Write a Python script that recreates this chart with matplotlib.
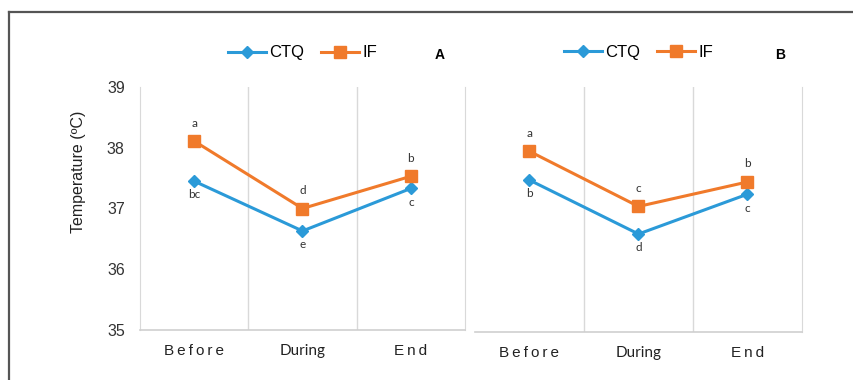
import matplotlib.pyplot as plt
from matplotlib.lines import Line2D

# categories and values
periods = ["Before", "During", "End"]

ctq_a = [37.45, 36.63, 37.33]
if_a = [38.11, 37.00, 37.53]
ctq_a_letters = ["bc", "e", "c"]
if_a_letters = ["a", "d", "b"]

ctq_b = [37.48, 36.60, 37.25]
if_b = [37.95, 37.05, 37.45]
ctq_b_letters = ["b", "d", "c"]
if_b_letters = ["a", "c", "b"]

BLUE = "#2B9AD8"
ORANGE = "#F07A2B"
GRID = "#D9D9D9"

plt.rcParams["font.family"] = ["Liberation Sans", "DejaVu Sans"]


def spaced(word):
    # Excel-style letter spacing on some tick labels
    return "\u2009".join(word)


def draw_panel(ax, ctq, iff, ctq_letters, if_letters, show_y):
    x = range(len(periods))
    ax.plot(x, ctq, color=BLUE, lw=2.2, marker="D", ms=6.5, label="CTQ")
    ax.plot(x, iff, color=ORANGE, lw=2.2, marker="s", ms=8.5, label="IF")

    for i in x:
        ax.annotate(if_letters[i], (i, iff[i]), xytext=(0, 9), textcoords="offset points",
                    ha="center", va="bottom", fontsize=8.5, color="#333333", family="Lato")
        ax.annotate(ctq_letters[i], (i, ctq[i]), xytext=(0, -6), textcoords="offset points",
                    ha="center", va="top", fontsize=8.5, color="#333333", family="Lato")

    ax.set_xlim(-0.5, 2.5)
    ax.set_ylim(35, 39)
    ax.set_yticks([35, 36, 37, 38, 39])
    ax.set_xticks(list(x))
    ax.set_xticklabels([spaced("Before"), "During", spaced("End")])
    ax.get_xticklabels()[1].set_family("Lato")
    ax.get_xticklabels()[1].set_fontsize(12)
    ax.tick_params(axis="x", length=0, pad=10, labelsize=11, colors="#222222")
    ax.tick_params(axis="y", length=0, pad=11, labelsize=11.5, colors="#333333")

    for xv in [0.5, 1.5]:
        ax.axvline(xv, color=GRID, lw=1, zorder=0)
    ax.spines["top"].set_visible(False)
    ax.spines["right"].set_color(GRID)
    ax.spines["left"].set_color(GRID)
    ax.spines["bottom"].set_color("#CFCFCF")
    ax.spines["bottom"].set_linewidth(1.2)

    if show_y:
        ax.set_ylabel("Temperature (ºC)", fontsize=11.5, color="#222222")
    else:
        ax.spines["left"].set_visible(False)
        ax.set_yticklabels([])

    ax.legend(loc="center", ncol=2, frameon=False, fontsize=12, handlelength=2.3,
              handletextpad=0.2, columnspacing=1.0, bbox_to_anchor=(0.5, 1.14))


fig = plt.figure(figsize=(8.54, 3.80), dpi=100)
W, H = 854, 380

ax_a = fig.add_axes([140 / W, 50 / H, 325 / W, 243 / H])
ax_b = fig.add_axes([475 / W, 48 / H, 327 / W, 245 / H])

draw_panel(ax_a, ctq_a, if_a, ctq_a_letters, if_a_letters, True)
draw_panel(ax_b, ctq_b, if_b, ctq_b_letters, if_b_letters, False)

ax_a.yaxis.set_label_coords(-0.165, 0.65)

fig.text(440 / W, 1 - 55 / H, "A", fontsize=10, fontweight="bold", ha="center", va="center")
fig.text(780 / W, 1 - 55 / H, "B", fontsize=10, fontweight="bold", ha="center", va="center")

# outer frame of the figure panel
fig.add_artist(Line2D([9 / W, 1], [1 - 12 / H, 1 - 12 / H], color="#555555", lw=1.6))
fig.add_artist(Line2D([9 / W, 9 / W], [1 - 12 / H, 0], color="#555555", lw=1.6))

fig.savefig("out.png", dpi=100)
